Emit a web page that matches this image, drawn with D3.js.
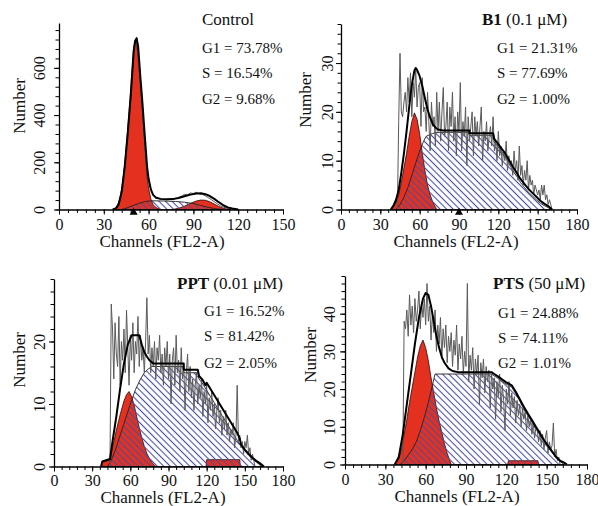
<!DOCTYPE html>
<html>
<head>
<meta charset="utf-8">
<script src="https://cdn.jsdelivr.net/npm/d3@7"></script>
<style>
  body { margin: 0; background: #fff; }
  text { font-family: "Liberation Serif", "Times New Roman", serif; fill: #111; }
</style>
</head>
<body>
<script>
// ---- data (channel, count) ----

// Control
const rawCtrlStart = 36, rawCtrlStep = 2;
const rawCtrl = [2,6,28,85,190,340,500,690,730,560, 400,220,120,75,55,48,44,42,41,43,
  42,46,50,56,64,62,70,68,73,66, 64,58,50,42,33,24,16,10,6,4, 2,1,0];
const g1Ctrl = [[37,0],[39,15],[41,50],[43,130],[44.5,220],[46,330],[48,470],[50,670],[51,715],[52,710],
  [53,640],[54.5,540],[56,410],[57,320],[58,230],[59,140],[60,90],[61.5,45],[63,20],[65,8],[68,0]];
const sCtrl = [[42,0],[46,8],[50,18],[54,27],[58,34],[62,37],[70,36],[78,34],[84,31],[90,25],[95,17],[100,9],[105,3],[110,0]];
const g2Ctrl = [[76,0],[80,5],[84,14],[88,26],[92,36],[95,40],[98,39],[101,33],[104,23],[107,13],[110,5],[113,1],[115,0]];
const envCtrl = [[36,0],[38,4],[40,22],[42,75],[44,180],[46,320],[48,480],[50,670],[51,715],[52,725],[53,690],
  [54.5,560],[56,440],[57,350],[58,265],[59,180],[60,130],[61.5,85],[63,62],[65,50],[68,45],[72,43],[76,44],
  [80,49],[84,56],[88,63],[92,68],[95,69],[98,65],[101,57],[104,45],[107,31],[110,18],[113,9],[116,4],[120,0]];

// B1 (0.1 uM)
const rawB1Start = 43, rawB1Step = 1;
const rawB1 = [0,18,32,20,19,22,24,20,27,22, 28,19,26,23,29,21,25,26,17,27,
  20,21,16,24,18,12,22,17,19,13, 24,16,22,14,20,25,15,17,22,12,
  21,17,24,14,19,11,20,16,26,12, 18,15,21,9,19,14,17,20,11,19,
  15,18,13,17,21,10,16,14,18,12, 15,17,13,19,12,14,10,16,11,13,
  9,12,10,14,8,11,9,10,7,12, 8,10,6,13,7,9,5,8,6,10,
  4,7,5,6,3,5,4,3,4,2, 5,3,5,2,3,1,2,1,0];
const g1B1 = [[38,0],[40,0.6],[42,1.5],[44,3],[46,5.5],[48,8.5],[50,11.5],[52,15],[54,18],[56,19.8],[58,18.5],
  [60,15.5],[62,11.5],[64,8],[66,5],[68,3],[70,1.5],[72,0.5],[73,0]];
const sB1 = [[42,0],[45,1],[48,2.5],[51,4.5],[54,7],[57,9.5],[60,12],[63,14],[65,15],[70,15.6],[74,15.8],[98,15.8],
  [98,15.2],[116,15.2],[117,13.8],[120,12.8],[122,12],[125,11],[128,9.5],[131,8],[134,6.8],[137,5.5],[140,4.5],
  [143,3.5],[146,2.8],[149,2],[152,1.3],[155,0.8],[158,0.4],[160,0]];
const envB1 = [[38,0],[40,0.8],[42,2],[44,4],[46,7.5],[48,11.5],[50,16],[52,21],[54,25.5],[56,28.5],[57,29],
  [58,28.6],[60,27.3],[62,25.3],[64,22.8],[66,20.5],[68,18.8],[70,17.5],[72,16.8],[74,16.4],[78,16.2],[98,16.2],
  [98,15.6],[116,15.6],[117,14.4],[120,13.4],[122,12.6],[125,11.6],[128,10.2],[131,8.8],[134,7.5],[137,6.2],
  [140,5.2],[143,4.2],[146,3.4],[149,2.6],[152,1.8],[155,1.2],[158,0.7],[161,0]];

// PPT (0.01 uM)
const rawPPTStart = 44, rawPPTStep = 1;
const rawPPT = [0,26,22,14,23,18,16,24,13,20, 17,22,15,25,19,13,21,17,23,15,
  20,18,24,16,21,17,19,15,20,27, 18,21,15,19,16,20,14,19,17,21,
  15,18,13,19,16,20,14,18,10,17, 19,13,21,15,17,12,19,14,16,9,
  15,18,12,16,11,14,9,13,15,10, 13,11,14,8,12,10,13,7,11,9,
  12,8,10,6,9,11,7,9,5,8, 6,9,5,7,4,6,5,7,3,5,
  13,4,5,3,4,2,4,3,5,2, 3,1,2,1,0];
const g1PPT = [[37,0],[38,0.8],[44,1],[46,3],[49,5.8],[52,8.3],[55,10.5],[57,11.5],[59,12],[61,11.2],[63,9.8],
  [65,8],[67,6.2],[69,4.6],[71,3.2],[73,2.1],[75,1.3],[77,0.6],[79,0.2],[80,0]];
const sPPT = [[42,0],[45,1],[48,2.5],[52,5],[56,7.5],[60,10],[64,12.3],[68,14],[71,15],[74,15.6],[77,16],[102,16],
  [102,15],[113,15],[114,14],[117,13.2],[120,12.2],[123,11.2],[126,10.2],[129,9.2],[132,8.2],[135,7.2],[138,6.2],
  [141,5.2],[144,4.2],[147,3.3],[150,2.5],[153,1.8],[156,1.2],[159,0.7],[162,0.3],[164,0]];
const g2PPT = [[119.5,0],[120,1.1],[146,1.1],[146.5,0]];
const envPPT = [[37,0],[38,0.8],[44,1.2],[46,4],[49,8],[52,12.5],[55,16.5],[58,19.5],[61,21],[67,21],[69,19.5],
  [71,18.3],[73,17.6],[75,17],[78,16.5],[102,16.5],[102,15.5],[113,15.5],[114,14.5],[117,13.8],[119,13],
  [120,13.4],[123,12.4],[126,11.4],[129,10.4],[132,9.4],[135,8.4],[138,7.4],[141,6.4],[144,5.4],[146,4.5],
  [147,3.5],[150,2.7],[153,2],[156,1.4],[159,0.9],[162,0.5],[165,0]];

// PTS (50 uM)
const rawPTSStart = 43, rawPTSStep = 1;
const rawPTS = [0,38,36,41,34,45,37,42,35,44, 38,41,46,36,43,39,44,37,48,38,
  42,33,40,35,41,30,37,32,39,28, 36,31,37,27,34,30,35,26,33,29,
  37,25,32,28,34,24,30,26,48,22, 29,25,31,20,28,24,29,16,27,23,
  28,19,26,22,25,15,24,20,23,12, 22,18,24,14,21,17,9,20,16,22,
  13,19,15,18,11,17,13,16,10,15, 12,14,9,13,10,12,8,11,7,10,
  9,6,9,5,8,4,7,9,3,6, 4,5,11,2,4,1,2,0];
const g1PTS = [[37,0],[40,1.5],[42,4],[44,8],[46,12],[48,16.5],[50,20.5],[52,24.5],[54,28.5],[56,31.5],[58,33],
  [60,31],[62,27.5],[64,23],[66,19],[68,15],[70,11.5],[72,8.5],[74,5.5],[76,3],[78,1],[79,0]];
const sPTS = [[41,0],[44,1],[47,2.5],[50,4],[53,6],[56,9],[59,12.5],[62,16.5],[65,21],[67,24],[109,24],[111,23.5],
  [114,22.8],[117,22],[120,21.3],[124,20.5],[127,18.8],[130,16.8],[133,14.8],[136,13],[139,11.3],[142,9.5],
  [145,7.8],[148,6.2],[151,4.6],[154,3.2],[157,1.8],[160,0.8],[163,0]];
const g2PTS = [[121,0],[121.5,1],[143.5,1],[144,0]];
const envPTS = [[37,0],[40,2],[43,8],[46,16],[49,24],[52,32],[55,39],[58,44],[60,45.5],[62,45],[64,42],[66,38],
  [68,34],[70,31],[72,28.5],[74,27],[77,25.5],[80,24.8],[84,24.5],[109,24.5],[111,24],[114,23.3],[117,22.5],
  [120,21.8],[124,21],[127,19.3],[130,17.3],[133,15.3],[136,13.5],[139,11.8],[142,10],[145,8.3],[148,6.5],
  [151,5],[154,3.5],[157,2],[160,1],[163,0.5],[165,0]];

// labels
const sampleNames = ["Control", "B1", "PPT", "PTS"];
const sampleConc = ["", " (0.1 \u03BCM)", " (0.01 \u03BCM)", " (50 \u03BCM)"];
const statsText = [
  ["G1 = 73.78%", "S = 16.54%", "G2 = 9.68%"],
  ["G1 = 21.31%", "S = 77.69%", "G2 = 1.00%"],
  ["G1 = 16.52%", "S = 81.42%", "G2 = 2.05%"],
  ["G1 = 24.88%", "S = 74.11%", "G2 = 1.01%"]
];
const xMaxes = [150, 180, 180, 180];
const yMaxes = [790, 38, 30, 50];
const yMajorTicks = [[0,200,400,600], [0,10,20,30], [0,10,20], [0,10,20,30,40]];
const yMinorSteps = [40, 2, 2, 2];
const markers = [50, 90, null, null];

// layout
const W = 598, H = 506;
const red = "#e4301f";
const serif = '"Liberation Serif", "Times New Roman", serif';
const layout = [
  {x0: 59, x1: 283, yb: 209.5, yt: 23, ylab: 14, xlab: 20.5, numX: 25, numY: 106, chX: 162, chY: 247, tx: 202, sx: 202, ty: [25, 53, 78, 104]},
  {x0: 341, x1: 577, yb: 209.5, yt: 24, ylab: 8, xlab: 20.5, numX: 311, numY: 100, chX: 456, chY: 247, tx: 482, sx: 497, ty: [25, 53, 78, 104]},
  {x0: 54, x1: 283, yb: 466.5, yt: 279, ylab: 9, xlab: 19, numX: 25, numY: 360, chX: 163, chY: 502.5, tx: 177, sx: 204, ty: [289, 316, 341, 368]},
  {x0: 345, x1: 587, yb: 464.5, yt: 276, ylab: 10, xlab: 20.5, numX: 316, numY: 355, chX: 457, chY: 502, tx: 493, sx: 498, ty: [289, 318, 343, 368]}
];

const panels = [
  {raw: rawCtrl, rawStart: rawCtrlStart, rawStep: rawCtrlStep, g1: g1Ctrl, s: sCtrl, g2: g2Ctrl, env: envCtrl},
  {raw: rawB1, rawStart: rawB1Start, rawStep: rawB1Step, g1: g1B1, s: sB1, g2: null, env: envB1},
  {raw: rawPPT, rawStart: rawPPTStart, rawStep: rawPPTStep, g1: g1PPT, s: sPPT, g2: g2PPT, env: envPPT},
  {raw: rawPTS, rawStart: rawPTSStart, rawStep: rawPTSStep, g1: g1PTS, s: sPTS, g2: g2PTS, env: envPTS}
];

const svg = d3.select("body").append("svg")
  .attr("width", W).attr("height", H);

// diagonal hatch for the S phase
svg.append("defs").append("pattern")
    .attr("id", "hatch")
    .attr("patternUnits", "userSpaceOnUse")
    .attr("width", 4.6).attr("height", 4.6)
    .attr("patternTransform", "rotate(-45)")
  .append("line")
    .attr("x1", 2.3).attr("y1", -1).attr("x2", 2.3).attr("y2", 6)
    .attr("stroke", "#4a4e9e").attr("stroke-width", 1.1);

panels.forEach(function(p, i) {
  const L = layout[i];
  const g = svg.append("g");

  const x = d3.scaleLinear().domain([0, xMaxes[i]]).range([L.x0, L.x1]);
  const y = d3.scaleLinear().domain([0, yMaxes[i]]).range([L.yb, L.yt]);

  const area = d3.area()
    .x(d => x(d[0]))
    .y0(y(0))
    .y1(d => y(d[1]));
  const line = d3.line()
    .x(d => x(d[0]))
    .y(d => y(d[1]));

  // G1 and G2 peaks
  g.append("path").datum(p.g1).attr("d", area)
    .attr("fill", red).attr("stroke", "#2a0a08").attr("stroke-width", 0.8);
  if (p.g2) {
    g.append("path").datum(p.g2).attr("d", area)
      .attr("fill", red).attr("stroke", "#2a0a08").attr("stroke-width", 0.8);
  }
  // S phase
  g.append("path").datum(p.s).attr("d", area)
    .attr("fill", "url(#hatch)").attr("stroke", "#222").attr("stroke-width", 0.9);

  // raw histogram
  const rawPts = p.raw.map((v, k) => [p.rawStart + k * p.rawStep, v]);
  g.append("path").datum(rawPts).attr("d", line)
    .attr("fill", "none").attr("stroke", "#5a5a5a").attr("stroke-width", 1);

  // model fit envelope
  g.append("path").datum(p.env).attr("d", line)
    .attr("fill", "none").attr("stroke", "#000").attr("stroke-width", 2)
    .attr("stroke-linejoin", "round");

  // x axis
  const xTicks = d3.range(0, xMaxes[i] + 1, 30);
  const xMinor = d3.range(0, xMaxes[i] + 1, 6);
  g.append("g").attr("transform", `translate(0,${L.yb})`)
    .call(d3.axisBottom(x).tickValues(xMinor).tickSize(3.5).tickSizeOuter(0).tickFormat(""))
    .call(a => a.select(".domain").remove())
    .selectAll("line").attr("stroke-width", 1);
  const xa = g.append("g").attr("transform", `translate(0,${L.yb})`)
    .call(d3.axisBottom(x).tickValues(xTicks).tickSize(5).tickSizeOuter(0));
  xa.select(".domain").attr("stroke-width", 1.3);
  xa.selectAll("text")
    .attr("y", L.xlab).attr("dy", 0)
    .attr("font-size", "16px")
    .style("font-family", serif)
    .attr("fill", "#111");

  // y axis
  const yMinor = d3.range(0, yMaxes[i] + 0.001, yMinorSteps[i]);
  g.append("g").attr("transform", `translate(${L.x0},0)`)
    .call(d3.axisLeft(y).tickValues(yMinor).tickSize(3.5).tickSizeOuter(0).tickFormat(""))
    .call(a => a.select(".domain").remove());
  const ya = g.append("g").attr("transform", `translate(${L.x0},0)`)
    .call(d3.axisLeft(y).tickValues(yMajorTicks[i]).tickSize(5).tickSizeOuter(0));
  ya.select(".domain").attr("stroke-width", 1.3);
  ya.selectAll("text")
    .attr("transform", "rotate(-90)")
    .attr("x", 0).attr("y", -L.ylab).attr("dy", 0)
    .style("text-anchor", "middle")
    .attr("font-size", "16px")
    .style("font-family", serif)
    .attr("fill", "#111");

  // marker triangle on the axis
  if (markers[i] !== null) {
    g.append("path")
      .attr("d", d3.symbol(d3.symbolTriangle, 28)())
      .attr("transform", `translate(${x(markers[i])},${L.yb + 3})`)
      .attr("fill", "#000");
  }

  // axis titles
  g.append("text")
    .attr("x", L.chX).attr("y", L.chY)
    .attr("text-anchor", "middle")
    .attr("font-size", "17px")
    .style("font-family", serif)
    .text("Channels (FL2-A)");
  g.append("text")
    .attr("transform", `translate(${L.numX},${L.numY}) rotate(-90)`)
    .attr("text-anchor", "middle")
    .attr("font-size", "17px")
    .style("font-family", serif)
    .text("Number");

  // sample name and phase percentages
  const t = g.append("text")
    .attr("x", L.tx).attr("y", L.ty[0])
    .attr("font-size", "17px")
    .style("font-family", serif);
  if (i === 0) {
    t.text(sampleNames[i]);
  } else {
    t.append("tspan").attr("font-weight", "bold").text(sampleNames[i]);
    t.append("tspan").text(sampleConc[i]);
  }
  statsText[i].forEach(function(s, k) {
    g.append("text")
      .attr("x", L.sx).attr("y", L.ty[k + 1])
      .attr("font-size", "15px")
      .style("font-family", serif)
      .text(s);
  });
});
</script>
</body>
</html>
